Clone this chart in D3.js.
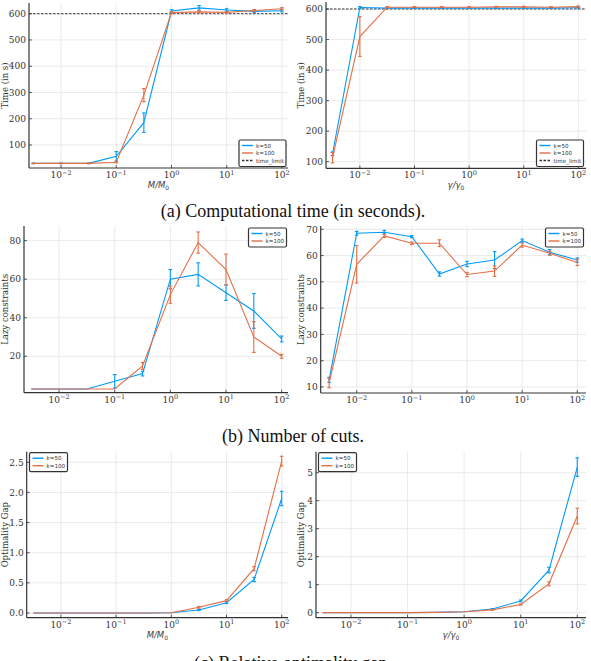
<!DOCTYPE html>
<html>
<head>
<meta charset="utf-8">
<script src="https://cdn.jsdelivr.net/npm/d3@7"></script>
<style>
  body { margin: 0; background: #fff; }
  .tick-label { font-family: 'DejaVu Serif', serif; font-size: 9px; fill: #333; }
  .ylabel { font-family: 'DejaVu Serif', serif; font-size: 8.5px; fill: #333; }
  .xlabel { font-family: 'DejaVu Sans', sans-serif; font-size: 8.5px; font-style: italic; fill: #3a3a3a; }
  .legend-text { font-family: 'DejaVu Sans', sans-serif; font-size: 5.6px; fill: #333; }
  .caption { font-family: 'Liberation Serif', serif; font-size: 18px; fill: #111; }
</style>
</head>
<body>
<div id="chart"></div>
<script>
'use strict';
// Data
const xVals = [0.00316, 0.01, 0.0316, 0.1, 0.316, 1, 3.16, 10, 31.6, 100]
const xTicks = [0.01, 0.1, 1, 10, 100]
const xTickExp = ['−2', '−1', '0', '1', '2']
const seriesNames = ['k=50', 'k=100']

// (a) computational time
const timeM50 = [30, 30, 30, 57, 185, 610, 622, 614, 609, 611]
const timeM50Err = [1, 1, 1, 18, 37, 5, 9, 5, 4, 4]
const timeM100 = [30, 30, 30, 34, 290, 604, 607, 605, 612, 619]
const timeM100Err = [1, 1, 1, 2, 25, 4, 4, 3, 4, 4]
const timeG50 = [126, 605, 603, 603, 603, 603, 603, 603, 603, 604]
const timeG50Err = [6, 3, 1, 1, 1, 1, 1, 1, 1, 1]
const timeG100 = [113, 510, 606, 606, 606, 606, 607, 607, 606, 608]
const timeG100Err = [17, 65, 2, 2, 2, 2, 2, 2, 2, 2]
const timeLimit = 600
const timeTicks = [100, 200, 300, 400, 500, 600]

// (b) number of cuts
const lazyM50 = [3, 3, 3, 7, 11, 60, 62.5, 53, 43.5, 29]
const lazyM50Err = [0, 0, 0, 3.5, 1.2, 5, 6, 4, 9, 1.5]
const lazyM100 = [3, 3, 3, 3, 15, 52, 79, 65, 30, 20]
const lazyM100Err = [0, 0, 0, 0, 1.8, 4.5, 5.5, 8, 8, 1]
const lazyG50 = [12.7, 68.5, 68.9, 67.2, 53, 56.8, 58.3, 65.7, 61.3, 58.3]
const lazyG50Err = [1, 0.7, 0.7, 0.4, 0.8, 1, 3.2, 0.6, 1, 0.8]
const lazyG100 = [11.5, 56.7, 67.5, 64.7, 64.7, 52.8, 54.1, 64, 60.9, 57.4]
const lazyG100Err = [1.8, 7.1, 0.6, 0.5, 1.3, 0.8, 2, 0.8, 0.8, 1.2]
const lazyMTicks = [20, 40, 60, 80]
const lazyGTicks = [10, 20, 30, 40, 50, 60, 70]

// (c) relative optimality gap
const gapM50 = [0, 0, 0, 0, 0, 0.005, 0.05, 0.17, 0.555, 1.9]
const gapM50Err = [0, 0, 0, 0, 0, 0, 0.01, 0.015, 0.035, 0.12]
const gapM100 = [0, 0, 0, 0, 0, 0.005, 0.095, 0.205, 0.735, 2.52]
const gapM100Err = [0, 0, 0, 0, 0, 0, 0.015, 0.015, 0.035, 0.08]
const gapG50 = [0, 0, 0, 0, 0.01, 0.03, 0.13, 0.42, 1.52, 5.2]
const gapG50Err = [0, 0, 0, 0, 0, 0, 0.01, 0.03, 0.1, 0.33]
const gapG100 = [0, 0, 0, 0, 0.01, 0.03, 0.1, 0.29, 1.03, 3.45]
const gapG100Err = [0, 0, 0, 0, 0, 0, 0.01, 0.02, 0.07, 0.28]
const gapMTicks = [0, 0.5, 1, 1.5, 2, 2.5]
const gapGTicks = [0, 1, 2, 3, 4, 5]

const captions = ['(a) Computational time (in seconds).', '(b) Number of cuts.', '(c) Relative optimality gap.']

const colors = ['#009af9', '#e36f47']

const svg = d3.select('#chart')
  .append('svg')
  .attr('width', 591)
  .attr('height', 661)

function drawPanel(p) {
  const x = d3.scaleLog().domain(p.xDomain).range([p.left, p.right])
  const y = d3.scaleLinear().domain(p.yDomain).range([p.bottom, p.top])
  const g = svg.append('g')

  // Grid lines
  g.selectAll('line.vgrid').data(xTicks).join('line')
    .attr('x1', d => x(d)).attr('x2', d => x(d))
    .attr('y1', p.top).attr('y2', p.bottom)
    .attr('stroke', '#e4e4e4').attr('stroke-width', 0.8)
  g.selectAll('line.hgrid').data(p.yTicks).join('line')
    .attr('x1', p.left).attr('x2', p.right)
    .attr('y1', d => y(d)).attr('y2', d => y(d))
    .attr('stroke', '#e4e4e4').attr('stroke-width', 0.8)

  // Time limit line
  if (p.limit) {
    g.append('line')
      .attr('x1', p.left).attr('x2', p.right)
      .attr('y1', y(p.limit)).attr('y2', y(p.limit))
      .attr('stroke', '#333').attr('stroke-width', 1.1)
      .attr('stroke-dasharray', '2.5,1.5')
  }

  // Series lines + error bars
  p.series.forEach((s, i) => {
    const line = d3.line().x((d, j) => x(xVals[j])).y(d => y(d))
    g.append('path').datum(s.values)
      .attr('d', line)
      .attr('fill', 'none')
      .attr('stroke', colors[i])
      .attr('stroke-width', 1.1)
    s.values.forEach((v, j) => {
      const e = s.err[j]
      if (!e) return
      const cx = x(xVals[j])
      g.append('line')
        .attr('x1', cx).attr('x2', cx)
        .attr('y1', y(v - e)).attr('y2', y(v + e))
        .attr('stroke', colors[i]).attr('stroke-width', 1.1)
      ;[v - e, v + e].forEach(c => {
        g.append('line')
          .attr('x1', cx - 1.8).attr('x2', cx + 1.8)
          .attr('y1', y(c)).attr('y2', y(c))
          .attr('stroke', colors[i]).attr('stroke-width', 1.1)
      })
    })
  })

  // Axis lines
  g.append('line')
    .attr('x1', p.left).attr('x2', p.right)
    .attr('y1', p.bottom).attr('y2', p.bottom)
    .attr('stroke', '#333').attr('stroke-width', 1.2)
  g.append('line')
    .attr('x1', p.left).attr('x2', p.left)
    .attr('y1', p.top).attr('y2', p.bottom)
    .attr('stroke', '#333').attr('stroke-width', 1.2)

  // Tick marks (inside)
  g.selectAll('line.xt').data(xTicks).join('line')
    .attr('x1', d => x(d)).attr('x2', d => x(d))
    .attr('y1', p.bottom).attr('y2', p.bottom - 3)
    .attr('stroke', '#333').attr('stroke-width', 0.8)
  g.selectAll('line.yt').data(p.yTicks).join('line')
    .attr('x1', p.left).attr('x2', p.left + 3)
    .attr('y1', d => y(d)).attr('y2', d => y(d))
    .attr('stroke', '#333').attr('stroke-width', 0.8)

  // X tick labels 10^k
  xTicks.forEach((t, i) => {
    const txt = g.append('text')
      .attr('class', 'tick-label')
      .attr('x', x(t))
      .attr('y', p.bottom + 10)
      .attr('text-anchor', 'middle')
    txt.append('tspan').text('10')
    txt.append('tspan').attr('dy', -3.5).attr('font-size', '6.5px').text(xTickExp[i])
  })

  // Y tick labels
  g.selectAll('text.yl').data(p.yTicks).join('text')
    .attr('class', 'tick-label')
    .attr('x', p.left - 3)
    .attr('y', d => y(d) + 3.2)
    .attr('text-anchor', 'end')
    .text(p.yFormat)

  // Y axis label
  g.append('text')
    .attr('class', 'ylabel')
    .attr('text-anchor', 'middle')
    .attr('transform', `translate(${p.ylabelX},${(p.top + p.bottom) / 2}) rotate(-90)`)
    .text(p.ylabel)

  // X axis label
  if (p.xlabel) {
    const xl = g.append('text')
      .attr('class', 'xlabel')
      .attr('x', (p.left + p.right) / 2)
      .attr('y', p.bottom + 20)
      .attr('text-anchor', 'middle')
    xl.append('tspan').text(p.xlabel)
    xl.append('tspan').attr('dy', 2).attr('font-size', '6px').attr('font-style', 'normal').text('0')
  }

  // Legend
  const entries = seriesNames.map((n, i) => ({ name: n, color: colors[i], dash: null }))
  if (p.limit) entries.push({ name: 'time_limit', color: '#333', dash: '2.5,1.5' })
  const lw = p.limit ? 47 : 38
  const lh = entries.length * 7.5 + 4
  const lg = g.append('g').attr('transform', `translate(${p.legendX},${p.legendY})`)
  lg.append('rect')
    .attr('width', lw).attr('height', lh)
    .attr('rx', 1.5)
    .attr('fill', '#fff')
    .attr('stroke', '#333').attr('stroke-width', 1.2)
  entries.forEach((e, i) => {
    const yy = 5.5 + i * 7.5
    lg.append('line')
      .attr('x1', 3).attr('x2', 14)
      .attr('y1', yy).attr('y2', yy)
      .attr('stroke', e.color).attr('stroke-width', 1.4)
      .attr('stroke-dasharray', e.dash)
    lg.append('text')
      .attr('class', 'legend-text')
      .attr('x', 17).attr('y', yy + 2)
      .text(e.name)
  })
}

const fmtInt = d => d3.format('d')(d)
const fmt1 = d => d3.format('.1f')(d)

const panels = [
  { left: 29, right: 288, top: 3, bottom: 168, xDomain: [10 ** -2.58, 10 ** 2.11], yDomain: [12.4, 640.7],
    yTicks: timeTicks, yFormat: fmtInt, ylabel: 'Time (in s)', ylabelX: 7.5, xlabel: 'M/M', limit: timeLimit,
    legendX: 239, legendY: 140,
    series: [{ values: timeM50, err: timeM50Err }, { values: timeM100, err: timeM100Err }] },
  { left: 326, right: 586, top: 2, bottom: 168.3, xDomain: [10 ** -2.62, 10 ** 2.14], yDomain: [78.4, 623],
    yTicks: timeTicks, yFormat: fmtInt, ylabel: 'Time (in s)', ylabelX: 303.5, xlabel: 'γ/γ', limit: timeLimit,
    legendX: 536.5, legendY: 140,
    series: [{ values: timeG50, err: timeG50Err }, { values: timeG100, err: timeG100Err }] },
  { left: 24, right: 288, top: 226, bottom: 392.7, xDomain: [10 ** -2.63, 10 ** 2.114], yDomain: [1.1, 87.6],
    yTicks: lazyMTicks, yFormat: fmtInt, ylabel: 'Lazy constraints', ylabelX: 7.5, xlabel: null, limit: null,
    legendX: 248.5, legendY: 228,
    series: [{ values: lazyM50, err: lazyM50Err }, { values: lazyM100, err: lazyM100Err }] },
  { left: 320.7, right: 586, top: 226, bottom: 393, xDomain: [10 ** -2.653, 10 ** 2.158], yDomain: [7.7, 71.26],
    yTicks: lazyGTicks, yFormat: fmtInt, ylabel: 'Lazy constraints', ylabelX: 303.5, xlabel: null, limit: null,
    legendX: 545.5, legendY: 228,
    series: [{ values: lazyG50, err: lazyG50Err }, { values: lazyG100, err: lazyG100Err }] },
  { left: 26.7, right: 288, top: 451.7, bottom: 617.7, xDomain: [10 ** -2.62, 10 ** 2.114], yDomain: [-0.078, 2.676],
    yTicks: gapMTicks, yFormat: fmt1, ylabel: 'Optimality Gap', ylabelX: 7.5, xlabel: 'M/M', limit: null,
    legendX: 29.5, legendY: 452.7,
    series: [{ values: gapM50, err: gapM50Err }, { values: gapM100, err: gapM100Err }] },
  { left: 316, right: 586, top: 451.7, bottom: 617.7, xDomain: [10 ** -2.618, 10 ** 2.154], yDomain: [-0.18, 5.75],
    yTicks: gapGTicks, yFormat: fmtInt, ylabel: 'Optimality Gap', ylabelX: 303.5, xlabel: 'γ/γ', limit: null,
    legendX: 318.5, legendY: 452.7,
    series: [{ values: gapG50, err: gapG50Err }, { values: gapG100, err: gapG100Err }] }
]

panels.forEach(drawPanel)

// Sub-figure captions (the last one runs off the bottom edge, as in the source figure)
const captionY = [217, 442, 669]
captions.forEach((c, i) => {
  svg.append('text')
    .attr('class', 'caption')
    .attr('x', 293)
    .attr('y', captionY[i])
    .attr('text-anchor', 'middle')
    .text(c)
})
</script>
</body>
</html>
